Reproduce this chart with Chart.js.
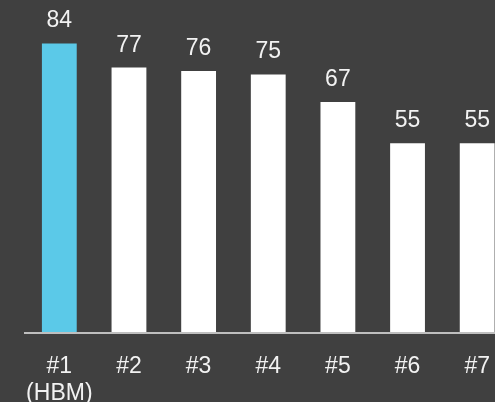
<!DOCTYPE html>
<html>
<head>
<meta charset="utf-8">
<script src="https://cdn.jsdelivr.net/npm/chart.js@4/dist/chart.umd.min.js"></script>
<style>
  html, body { margin: 0; padding: 0; background: #404040; overflow: hidden; }
  #wrap { width: 512px; height: 402px; }
</style>
</head>
<body>
<div id="wrap"><canvas id="chartRank" width="512" height="402"></canvas></div>
<script>
// 순위별 점수
var categories = [["#1", "(HBM)"], "#2", "#3", "#4", "#5", "#6", "#7"];
var scores = [84, 77, 76, 75, 67, 55, 55];
var yMax = 96;

var FONT = "'Liberation Sans', Arial, sans-serif";

// 막대 위에 값 표시
var valueLabels = {
    id: "valueLabels",
    afterDatasetsDraw: function(chart) {
        var ctx = chart.ctx;
        var meta = chart.getDatasetMeta(0);
        ctx.save();
        ctx.fillStyle = "#f2f2f2";
        ctx.font = "23px " + FONT;
        ctx.textAlign = "center";
        ctx.textBaseline = "alphabetic";
        meta.data.forEach(function(bar, i) {
            ctx.fillText(String(scores[i]), bar.x, bar.y - 16);
        });
        ctx.restore();
    }
};

var chartRank = new Chart(document.getElementById("chartRank").getContext("2d"), {
    type: "bar",
    data: {
        labels: categories,
        datasets: [{
            data: scores,
            backgroundColor: function(c) { return c.dataIndex === 0 ? "#5bc9e8" : "#ffffff"; },
            borderWidth: 0,
            barPercentage: 0.5,
            categoryPercentage: 1
        }]
    },
    options: {
        responsive: false,
        devicePixelRatio: 1,
        animation: false,
        layout: { padding: { left: 24.5, right: 0, top: 2, bottom: 0 } },
        plugins: { legend: { display: false }, tooltip: { enabled: false } },
        scales: {
            x: {
                grid: { display: false, drawTicks: false },
                border: { display: true, color: "#bfbfbf", width: 2, z: 1 },
                ticks: {
                    color: "#f2f2f2",
                    padding: 20,
                    maxRotation: 0,
                    autoSkip: false,
                    font: { family: FONT, size: 23, lineHeight: 1.18 }
                },
                afterFit: function(s) { s.height = 69; }
            },
            y: {
                display: false,
                min: 0,
                max: yMax
            }
        }
    },
    plugins: [valueLabels]
});
</script>
</body>
</html>
